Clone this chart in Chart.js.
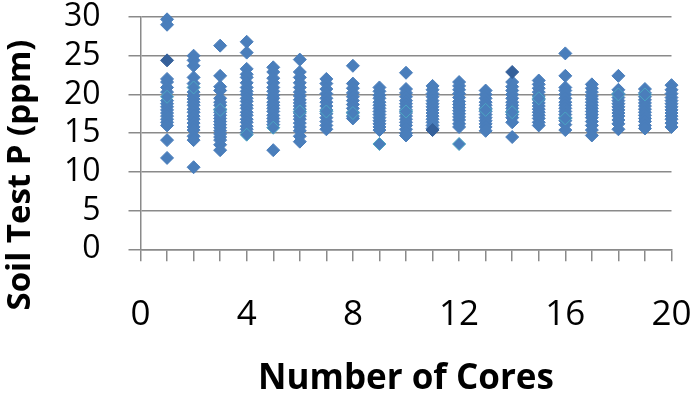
<!DOCTYPE html>
<html>
<head>
<meta charset="utf-8">
<title>Soil Test P vs Number of Cores</title>
<script src="https://cdn.jsdelivr.net/npm/chart.js@4.4.0/dist/chart.umd.min.js"></script>
<style>
  html, body { margin: 0; padding: 0; background: #fff; }
</style>
</head>
<body>
<canvas id="soilChart" width="697" height="400"></canvas>
<script>
// number of cores per composite sample (x) and the soil test P values seen at each
const cores = [1, 2, 3, 4, 5, 6, 7, 8, 9, 10, 11, 12, 13, 14, 15, 16, 17, 18, 19, 20];
const soilP = [
  [29.7, 29.0, 22.0, 21.6, 20.9, 20.3, 19.2, 18.8, 18.4, 18.0, 17.6, 17.2, 16.8, 16.4, 16.0, 14.1, 11.8],
  [25.0, 24.4, 23.7, 22.2, 21.4, 20.3, 19.8, 19.4, 19.0, 18.6, 18.1, 17.7, 17.2, 16.8, 16.3, 15.8, 15.4, 14.6, 14.1, 10.6],
  [26.3, 22.4, 21.0, 20.5, 19.5, 19.0, 18.6, 18.1, 17.7, 17.3, 16.9, 16.5, 16.1, 15.7, 15.3, 14.9, 14.5, 14.1, 13.5, 12.8],
  [26.8, 25.4, 23.3, 22.6, 22.2, 21.5, 20.9, 20.4, 20.0, 19.5, 19.1, 18.6, 18.2, 17.7, 17.3, 16.8, 16.4, 15.9, 15.5, 15.1],
  [23.5, 22.9, 22.1, 21.5, 20.9, 20.4, 19.9, 19.5, 19.0, 18.6, 18.2, 17.8, 17.3, 16.9, 16.5, 16.1, 12.8],
  [24.5, 22.9, 22.2, 21.5, 20.9, 20.3, 19.8, 19.3, 18.9, 18.5, 18.1, 17.6, 17.2, 16.8, 16.3, 15.8, 15.3, 14.6, 13.9],
  [22.0, 21.4, 20.7, 20.1, 19.5, 19.0, 18.5, 18.0, 17.5, 17.0, 16.5, 16.0, 15.5],
  [23.7, 21.4, 20.8, 20.2, 19.7, 19.2, 18.7, 18.2, 17.7, 17.2, 16.9],
  [20.9, 20.4, 19.9, 19.5, 19.0, 18.6, 18.2, 17.8, 17.4, 17.0, 16.6, 16.2, 15.8, 15.4],
  [22.8, 20.7, 20.2, 19.7, 19.2, 18.8, 18.4, 18.0, 17.6, 17.2, 16.8, 16.4, 16.0, 15.5, 15.0, 14.7],
  [21.1, 20.6, 20.1, 19.7, 19.2, 18.8, 18.4, 18.0, 17.6, 17.2, 16.8, 16.4, 16.0, 15.6],
  [21.6, 21.1, 20.6, 20.1, 19.6, 19.1, 18.7, 18.3, 17.9, 17.5, 17.1, 16.7, 16.2, 15.8],
  [20.5, 20.0, 19.5, 19.0, 18.6, 18.2, 17.8, 17.4, 17.0, 16.6, 16.2, 15.8, 15.3],
  [21.6, 21.0, 20.5, 20.0, 19.5, 19.0, 18.6, 18.2, 17.8, 17.4, 17.0, 16.4, 14.5],
  [21.8, 21.3, 20.8, 20.3, 19.8, 19.3, 18.9, 18.5, 18.1, 17.7, 17.3, 16.9, 16.4, 16.0],
  [25.3, 22.4, 20.9, 20.5, 20.0, 19.5, 19.0, 18.6, 18.2, 17.8, 17.4, 17.0, 16.6, 16.1, 15.4],
  [21.3, 20.8, 20.3, 19.8, 19.4, 19.0, 18.6, 18.2, 17.8, 17.4, 17.0, 16.5, 16.0, 15.4, 14.7],
  [22.4, 20.6, 20.1, 19.6, 19.2, 18.8, 18.4, 18.0, 17.6, 17.2, 16.7, 16.2, 15.5],
  [20.7, 20.2, 19.7, 19.3, 18.9, 18.5, 18.1, 17.7, 17.3, 16.9, 16.5, 16.0, 15.6],
  [21.2, 20.6, 20.1, 19.6, 19.2, 18.8, 18.4, 18.0, 17.6, 17.2, 16.8, 16.3, 15.8]
];
// a few markers show up darker, a few with a teal edge
const darkCores = [1, 11, 14];
const darkP = [24.4, 15.4, 22.9];
const edgedCores = [1, 2, 3, 4, 5, 6, 7, 8, 9, 10, 12, 13, 14, 15, 16, 18, 19];
const edgedP = [19.7, 20.9, 18.0, 14.8, 15.7, 17.8, 17.8, 17.6, 13.6, 17.8, 13.6, 18.0, 17.7, 19.5, 16.9, 20.0, 20.0];

const xLabelTicks = [0, 4, 8, 12, 16, 20];
const yMin = 0, yMax = 30, yStep = 5;

const mainPoints = cores.flatMap((c, i) => soilP[i].map(v => ({ x: c, y: v })));
const darkPoints = darkCores.map((c, i) => ({ x: c, y: darkP[i] }));
const edgedPoints = edgedCores.map((c, i) => ({ x: c, y: edgedP[i] }));

const blue = '#4A7EBB';
const gridCol = '#8a8a8a';
const fontFam = '"Open Sans", "DejaVu Sans", sans-serif';

// y axis title drawn by hand so it can sit where Excel put it
const yTitlePlugin = {
  id: 'yTitle',
  afterDraw(chart) {
    const ctx = chart.ctx;
    ctx.save();
    ctx.translate(21, 175);
    ctx.rotate(-Math.PI / 2);
    ctx.font = 'bold 33px ' + fontFam;
    ctx.fillStyle = '#000';
    ctx.textAlign = 'center';
    ctx.textBaseline = 'middle';
    ctx.fillText('Soil Test P (ppm)', 0, 0);
    ctx.restore();
  }
};

const pointStyleBase = {
  pointStyle: 'rectRot',
  pointRadius: 6.5,
  showLine: false,
  clip: false
};

const ctx = document.getElementById('soilChart').getContext('2d');
new Chart(ctx, {
  type: 'scatter',
  data: {
    datasets: [
      Object.assign({
        label: 'dark',
        data: darkPoints,
        backgroundColor: '#35609A',
        borderColor: '#35609A',
        borderWidth: 1
      }, pointStyleBase),
      Object.assign({
        label: 'edged',
        data: edgedPoints,
        backgroundColor: blue,
        borderColor: '#4BA5C2',
        borderWidth: 1
      }, pointStyleBase),
      Object.assign({
        label: 'Soil Test P',
        data: mainPoints,
        backgroundColor: blue,
        borderColor: blue,
        borderWidth: 1
      }, pointStyleBase)
    ]
  },
  options: {
    responsive: false,
    animation: false,
    devicePixelRatio: 1,
    layout: { padding: { top: 17, right: 25.5, left: 0, bottom: 0 } },
    plugins: {
      legend: { display: false },
      tooltip: { enabled: false }
    },
    scales: {
      x: {
        type: 'linear',
        min: 0,
        max: 20,
        afterFit(scale) {
          scale.height = 150.7;
          scale.paddingLeft = 0;
          scale.paddingRight = 0;
        },
        ticks: {
          stepSize: 1,
          autoSkip: false,
          maxRotation: 0,
          padding: 33,
          color: '#000',
          font: { family: fontFam, size: 35, lineHeight: 1.2 },
          callback: v => xLabelTicks.includes(v) ? String(v) : ''
        },
        grid: { drawOnChartArea: false, drawTicks: true, tickLength: 12, color: gridCol, lineWidth: 1.5 },
        border: { color: gridCol, width: 1.5 },
        title: {
          display: true,
          text: 'Number of Cores',
          color: '#000',
          padding: { top: 0, bottom: 0 },
          font: { family: fontFam, size: 35, weight: 'bold', lineHeight: 1.2 }
        }
      },
      y: {
        min: yMin,
        max: yMax,
        afterFit(scale) {
          scale.width = 140.5;
          scale.paddingTop = 0;
          scale.paddingBottom = 0;
        },
        ticks: {
          stepSize: yStep,
          autoSkip: false,
          padding: 28,
          color: '#000',
          font: { family: fontFam, size: 32, lineHeight: 1 }
        },
        grid: { color: gridCol, tickLength: 12, lineWidth: 1.5 },
        border: { color: gridCol, width: 1.5 }
      }
    }
  },
  plugins: [yTitlePlugin]
});
</script>
</body>
</html>
